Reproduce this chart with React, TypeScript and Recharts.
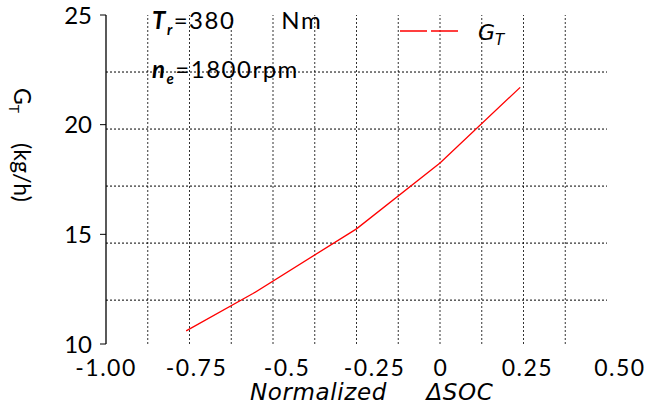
import {
  LineChart,
  Line,
  XAxis,
  YAxis,
  ReferenceLine,
} from 'recharts';

// Normalized ΔSOC vs fuel rate G_T
const socValues = [-0.76, -0.56, -0.25, 0, 0.24];
const fuelRate = [10.6, 12.3, 15.25, 18.25, 21.7];

const xTicks = [-1, -0.75, -0.5, -0.25, 0, 0.25, 0.5];
const xTickLabels = ['-1.00', '-0.75', '-0.5', '-0.25', '0', '0.25', '0.50'];
// the original figure draws its x labels a little off the tick values
const xTickNudge = [0, 7, 14, 18, 1, 4, 13];
const yTicks = [10, 15, 20, 25];

// dotted grid positions, in data units
const xGrid = [-0.875, -0.75, -0.625, -0.5, -0.375, -0.25, -0.125, 0, 0.125, 0.25, 0.375];
const yGrid = [12.0, 14.6, 17.2, 19.8, 22.4];

const data = socValues.map((soc, i) => ({ soc, gt: fuelRate[i] }));

const gridColor = '#333';

function XTick(props: any) {
  const { x, y, payload } = props;
  const i = xTicks.indexOf(payload.value);
  return (
    <text
      x={x + (xTickNudge[i] ?? 0)}
      y={y}
      dy="0.71em"
      textAnchor="middle"
      fontFamily="Lato"
      fontSize={23}
      letterSpacing={1.5}
      fill="#000"
    >
      {xTickLabels[i] ?? String(payload.value)}
    </text>
  );
}

function YLabel(props: any) {
  const { viewBox } = props;
  const x = 14;
  const y = viewBox.y + 73;
  return (
    <text
      x={x}
      y={y}
      transform={`rotate(90 ${x} ${y})`}
      textAnchor="start"
      fontFamily="Lato"
      fontSize={23}
      fill="#000"
    >
      G<tspan fontSize={14} dy={5}>T</tspan>
      <tspan dy={-5} dx={30}>(kg/h)</tspan>
    </text>
  );
}

const noteStyle = {
  position: 'absolute' as const,
  left: 152,
  fontFamily: 'Lato',
  fontSize: 24,
  letterSpacing: 1.5,
  whiteSpace: 'pre' as const,
  color: '#000',
};

export default function App() {
  return (
    <div style={{ position: 'absolute', left: 0, top: 0, width: 650, height: 411, background: '#fff' }}>
      <LineChart width={650} height={411} data={data} margin={{ top: 15, right: 43, left: 0, bottom: 0 }}>
        <XAxis
          type="number"
          dataKey="soc"
          domain={[-1, 0.5]}
          ticks={xTicks}
          interval={0}
          axisLine={false}
          tickLine={false}
          tickSize={0}
          tickMargin={16}
          height={67}
          tick={<XTick />}
        />
        <YAxis
          type="number"
          domain={[10, 25]}
          ticks={yTicks}
          interval={0}
          width={106}
          axisLine={{ stroke: '#000', strokeWidth: 1.3 }}
          tickLine={{ stroke: '#000' }}
          tickSize={6}
          tickMargin={8}
          tick={{ fontFamily: 'Lato', fontSize: 24, fill: '#000' }}
          label={{ content: YLabel }}
        />
        {xGrid.map((v) => (
          <ReferenceLine key={`x${v}`} x={v} stroke={gridColor} strokeDasharray="2 2" />
        ))}
        {yGrid.map((v) => (
          <ReferenceLine key={`y${v}`} y={v} stroke="#000" strokeDasharray="2 2" />
        ))}
        <Line
          type="linear"
          dataKey="gt"
          stroke="#ff0000"
          strokeWidth={1.3}
          dot={false}
          name="GT"
          isAnimationActive={false}
        />
      </LineChart>

      {/* legend */}
      <svg style={{ position: 'absolute', left: 395, top: 15 }} width={120} height={40}>
        <line x1={5} y1={16} x2={63} y2={16} stroke="#ff0000" strokeWidth={1.3} strokeDasharray="27 4" />
        <text x={83} y={25} fontFamily="DejaVu Sans" fontStyle="italic" fontSize={22} fill="#000">
          G<tspan fontSize={15} dy={5}>T</tspan>
        </text>
      </svg>

      <div style={{ ...noteStyle, top: 5 }}>
        <b><i>T<sub style={{ fontSize: 15 }}>r</sub></i></b>=380      Nm
      </div>
      <div style={{ ...noteStyle, top: 54 }}>
        <b><i>n<sub style={{ fontSize: 15 }}>e</sub></i></b>=1800rpm
      </div>
      <div style={{ position: 'absolute', left: 250, top: 379, fontFamily: 'DejaVu Sans', fontStyle: 'italic', fontSize: 23, letterSpacing: 0.6, whiteSpace: 'pre', color: '#000' }}>
        Normalized     ΔSOC
      </div>
    </div>
  );
}
